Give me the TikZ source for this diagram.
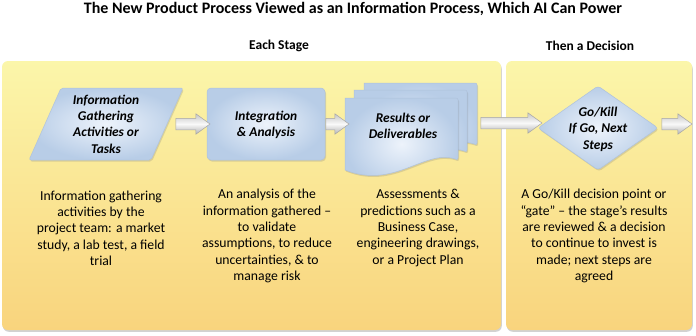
\documentclass[tikz,border=0pt]{standalone}
\usepackage{fontspec}
\setmainfont{Carlito}
\usetikzlibrary{shapes.arrows,shadows,calc}
\definecolor{yelTop}{HTML}{FBF6AA}
\definecolor{yelBot}{HTML}{F9D47D}
\definecolor{bluIn}{HTML}{EDF3FB}
\definecolor{bluOut}{HTML}{B8CDE7}
\definecolor{bluLine}{HTML}{AFC2DB}
\tikzset{
  panel/.style={rounded corners=6pt, top color=yelTop, bottom color=yelBot,
    drop shadow={shadow xshift=0.8pt, shadow yshift=-1.8pt, opacity=0.35}},
  blueshape/.style={shading=radial, inner color=bluIn, outer color=bluOut,
    draw=bluLine, line width=0.5pt,
    drop shadow={shadow xshift=1pt, shadow yshift=-1.5pt, opacity=0.25}},
  shapetext/.style={font=\fontsize{13.4}{16.4}\selectfont\bfseries\itshape, align=center, text=black},
  desc/.style={font=\fontsize{13.7}{16.3}\selectfont, align=center, text=black},
  head/.style={font=\fontsize{13.5}{16}\selectfont\bfseries, text=black},
  blockarrow/.style={single arrow, draw=gray!70, line width=0.5pt,
    top color=gray!45, bottom color=gray!60, middle color=gray!5,
    inner xsep=0pt, inner ysep=5.5pt, text height=0pt, text depth=0pt,
    single arrow head extend=4.5pt, single arrow tip angle=72, anchor=center}
}
\begin{document}
\begin{tikzpicture}[x=1pt,y=-1pt]
\useasboundingbox (0,0) rectangle (696,335);
\fill[white] (0,0) rectangle (696,335);

% title and headings
\node[font=\fontsize{16}{19}\selectfont\bfseries] (title) at (353,9) {The New Product Process Viewed as an Information Process, Which AI Can Power};
\node[head] (h1) at (279,46) {Each Stage};
\node[head] (h2) at (590,46) {Then a Decision};

% panels
\path[panel] (2,61) rectangle (501,330);
\path[panel] (506,61) rectangle (692,330);

% shape 1: parallelogram
\path[blueshape, rounded corners=2pt] (29,160) -- (61,88) -- (183,88) -- (151,160) -- cycle;
\node[shapetext] (p1) at (106,124) {Information\\Gathering\\Activities or\\Tasks};

% shape 2: rounded rectangle
\path[blueshape, rounded corners=4pt] (207,88) rectangle (325,160);
\node[shapetext] (n2) at (266,125) {Integration\\\& Analysis};

% shape 3: multi-document (offset copies)
\foreach \dx/\dy in {19/-15, 9/-8, 0/0}{
  \path[blueshape, shift={(\dx,\dy)}, rounded corners=2pt] (345,98) -- (458,98) -- (458,160) [sharp corners] .. controls (425,148) and (395,190) .. (345,170) -- cycle;
}
\node[shapetext] (n3) at (403,126) {Results or\\Deliverables};

% shape 4: diamond
\path[blueshape, rounded corners=3pt] (538,128) -- (598,86) -- (658,128) -- (598,170) -- cycle;
\node[shapetext] (n4) at (598,129) {Go/Kill\\If Go, Next\\Steps};

% block arrows
\node[blockarrow, minimum height=34pt] (a1) at (189,124) {};
\node[blockarrow, minimum height=23pt] (a2) at (333.5,124) {};
\node[blockarrow, minimum height=61pt] (a3) at (507.5,123) {};
\node[blockarrow, minimum height=30pt] (a4) at (673,124) {};

% descriptions
\node[desc] (t1) at (101,228) {Information gathering\\activities by the\\project team: a market\\study, a lab test, a field\\trial};
\node[desc] (t2) at (267,236) {An analysis of the\\information gathered --\\to validate\\assumptions, to reduce\\uncertainties, \& to\\manage risk};
\node[desc] (t3) at (418,228) {Assessments \&\\predictions such as a\\Business Case,\\engineering drawings,\\or a Project Plan};
\node[desc] (t4) at (594,236) {A Go/Kill decision point or\\“gate” -- the stage’s results\\are reviewed \& a decision\\to continue to invest is\\made; next steps are\\agreed};
\end{tikzpicture}
\end{document}
